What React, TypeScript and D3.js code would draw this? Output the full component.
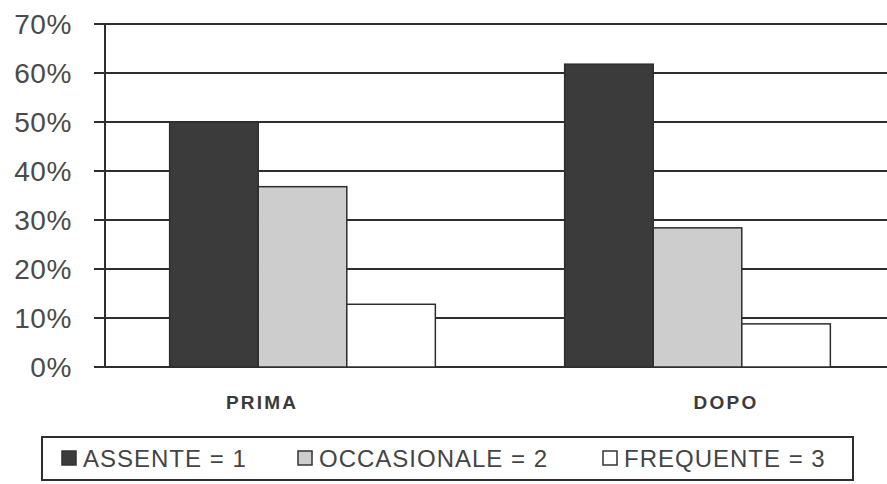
import * as d3 from "d3";

// categories, series and values (percent shares)
const categories = ["PRIMA", "DOPO"];
const series = ["ASSENTE = 1", "OCCASIONALE = 2", "FREQUENTE = 3"];
const prima = [0.5, 0.368, 0.128];
const dopo = [0.618, 0.284, 0.088];
const yTicks = [0, 0.1, 0.2, 0.3, 0.4, 0.5, 0.6, 0.7];

const fills = ["#3b3b3b", "#cdcdcd", "#ffffff"];
const values: number[][] = [prima, dopo];

const W = 887;
const H = 484;
const margin = { top: 24, left: 105, bottom: 117, right: -8 };

const App = () => {
  const y = d3
    .scaleLinear()
    .domain([0, 0.7])
    .range([H - margin.bottom, margin.top]);
  const x0 = d3
    .scaleBand()
    .domain(categories)
    .range([margin.left, W - margin.right]);
  const x1 = d3
    .scaleBand()
    .domain(series)
    .range([0, x0.bandwidth()])
    .paddingOuter(0.73);
  // labels under the axis sit off-centre in the original
  const xLabel = d3.scalePoint().domain(categories).range([262, 726]);
  const fmt = d3.format(".0%");

  // legend item positions
  const legendX = [62, 298, 603];

  return (
    <svg
      width={W}
      height={H}
      style={{ position: "absolute", left: 0, top: 0, background: "#fff" }}
      fontFamily="'Liberation Sans', Arial, sans-serif"
    >
      {/* gridlines + ticks */}
      {yTicks.map((t) => (
        <g key={t}>
          <line
            x1={94}
            x2={W}
            y1={y(t)}
            y2={y(t)}
            stroke="#2e2e2e"
            strokeWidth={2}
          />
          <text
            x={72}
            y={y(t)}
            dy="0.36em"
            textAnchor="end"
            fontSize={28}
            letterSpacing={0.6}
            fill="#4a4a4a"
          >
            {fmt(t)}
          </text>
        </g>
      ))}
      <line
        x1={margin.left}
        x2={margin.left}
        y1={y(0.7)}
        y2={y(0)}
        stroke="#2e2e2e"
        strokeWidth={2}
      />

      {/* bars */}
      {categories.map((c, ci) => (
        <g key={c} transform={`translate(${x0(c)},0)`}>
          {series.map((s, si) => (
            <rect
              key={s}
              x={x1(s)}
              y={y(values[ci][si])}
              width={x1.bandwidth()}
              height={y(0) - y(values[ci][si])}
              fill={fills[si]}
              stroke="#2e2e2e"
              strokeWidth={1.5}
            />
          ))}
        </g>
      ))}

      {/* category labels */}
      {categories.map((c) => (
        <text
          key={c}
          x={xLabel(c)}
          y={402}
          dy="0.36em"
          textAnchor="middle"
          fontSize={19}
          letterSpacing={2.2}
          fontWeight="bold"
          fill="#3a3a3a"
        >
          {c}
        </text>
      ))}

      {/* legend */}
      <rect
        x={42}
        y={437}
        width={811}
        height={43}
        fill="#fff"
        stroke="#2e2e2e"
        strokeWidth={2}
      />
      {series.map((s, i) => (
        <g key={s} transform={`translate(${legendX[i]},458)`}>
          <rect
            x={0}
            y={-7}
            width={14}
            height={14}
            fill={fills[i]}
            stroke="#333"
            strokeWidth={1.5}
          />
          <text
            x={21}
            dy="0.36em"
            fontSize={24}
            letterSpacing={1}
            fill="#444"
          >
            {s}
          </text>
        </g>
      ))}
    </svg>
  );
};

export default App;
